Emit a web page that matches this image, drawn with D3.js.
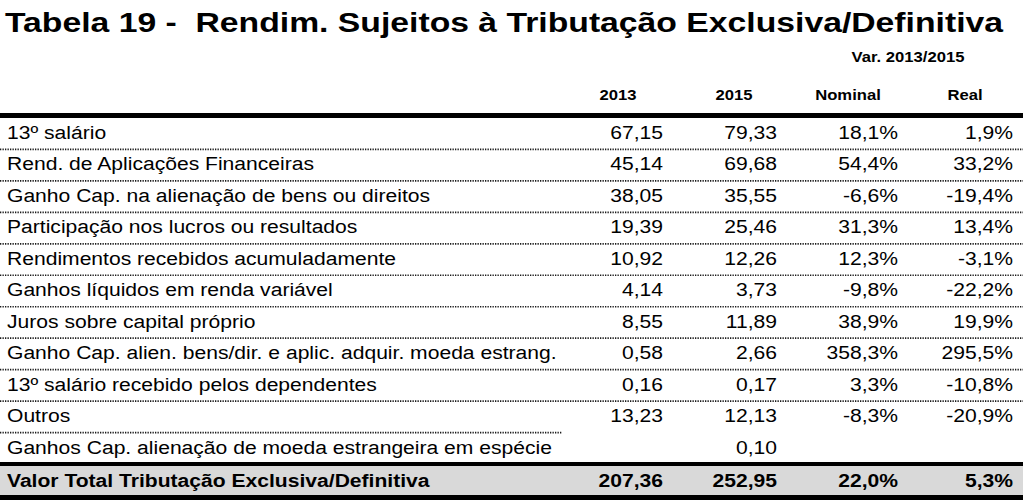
<!DOCTYPE html>
<html><head><meta charset="utf-8">
<script src="https://cdn.jsdelivr.net/npm/d3@7"></script>
<style>html,body{margin:0;padding:0;background:#fff;}svg{display:block;font-family:"Liberation Sans",Arial,sans-serif;}text{white-space:pre;}</style>
</head><body>
<script>
const title = "Tabela 19 -  Rendim. Sujeitos à Tributação Exclusiva/Definitiva";
const groupHeader = "Var. 2013/2015";
const columns = ["2013", "2015", "Nominal", "Real"];
const categories = [
  "13º salário",
  "Rend. de Aplicações Financeiras",
  "Ganho Cap. na alienação de bens ou direitos",
  "Participação nos lucros ou resultados",
  "Rendimentos recebidos acumuladamente",
  "Ganhos líquidos em renda variável",
  "Juros sobre capital próprio",
  "Ganho Cap. alien. bens/dir. e aplic. adquir. moeda estrang.",
  "13º salário recebido pelos dependentes",
  "Outros",
  "Ganhos Cap. alienação de moeda estrangeira em espécie"
];
const values2013 = [67.15, 45.14, 38.05, 19.39, 10.92, 4.14, 8.55, 0.58, 0.16, 13.23, null];
const values2015 = [79.33, 69.68, 35.55, 25.46, 12.26, 3.73, 11.89, 2.66, 0.17, 12.13, 0.10];
const varNominal = [18.1, 54.4, -6.6, 31.3, 12.3, -9.8, 38.9, 358.3, 3.3, -8.3, null];
const varReal = [1.9, 33.2, -19.4, 13.4, -3.1, -22.2, 19.9, 295.5, -10.8, -20.9, null];
const totalLabel = "Valor Total Tributação Exclusiva/Definitiva";
const totalValues = [207.36, 252.95, 22.0, 5.3];

const W = 1023, H = 500;
const SX = 1.11;
const svg = d3.select("body").append("svg").attr("width", W).attr("height", H);

const f2 = v => v == null ? "" : d3.format(".2f")(v).replace(".", ",");
const fp = v => v == null ? "" : d3.format(".1f")(v).replace(".", ",").replace("−", "-") + "%";
const fmts = [f2, f2, fp, fp];

const y = d3.scaleBand().domain(d3.range(categories.length)).range([118, 464]).padding(0);
const colRight = d3.scaleOrdinal().domain(columns).range([663, 777, 898, 1013]);
const colCenter = d3.scaleOrdinal().domain(columns).range([618, 734, 848, 965]);

// title
svg.append("text").attr("x", 5).attr("y", 32)
  .attr("font-size", 28).attr("font-weight", "bold").attr("fill", "#000")
  .attr("textLength", 998).attr("lengthAdjust", "spacingAndGlyphs")
  .text(title);

svg.append("text").attr("transform", `translate(908,62) scale(${SX},1)`).attr("text-anchor", "middle")
  .attr("font-size", 15).attr("font-weight", "bold").text(groupHeader);

svg.selectAll("text.colh").data(columns).join("text").attr("class", "colh")
  .attr("transform", d => `translate(${colCenter(d)},100) scale(${SX},1)`).attr("text-anchor", "middle")
  .attr("font-size", 15).attr("font-weight", "bold").text(d => d);

// total row background
svg.append("rect").attr("x", 0).attr("y", 466).attr("width", W).attr("height", 29).attr("fill", "#d9d9d9");

// dotted separators
const seps = d3.range(1, categories.length);
svg.selectAll("line.sep").data(seps).join("line").attr("class", "sep")
  .attr("x1", 0)
  .attr("x2", d => d === categories.length - 1 ? 562 : W)
  .attr("y1", d => y(d)).attr("y2", d => y(d))
  .attr("stroke", "#1a1a1a").attr("stroke-width", 1.7).attr("stroke-dasharray", "1.3,1.2");

// thick lines
svg.append("line").attr("x1", 0).attr("x2", W).attr("y1", 115.5).attr("y2", 115.5).attr("stroke", "#000").attr("stroke-width", 5);
svg.append("line").attr("x1", 0).attr("x2", W).attr("y1", 464).attr("y2", 464).attr("stroke", "#000").attr("stroke-width", 4);
svg.append("line").attr("x1", 0).attr("x2", W).attr("y1", 497.5).attr("y2", 497.5).attr("stroke", "#000").attr("stroke-width", 5);

// rows
const rows = svg.selectAll("g.row").data(categories).join("g").attr("class", "row")
  .attr("transform", (d, i) => `translate(0,${y(i) + 21})`);
rows.append("text").attr("transform", `translate(7,0) scale(${SX},1)`).attr("font-size", 19).text(d => d);
const series = [values2013, values2015, varNominal, varReal];
columns.forEach((c, ci) => {
  rows.append("text").attr("transform", `translate(${colRight(c)},0) scale(${SX},1)`).attr("text-anchor", "end")
    .attr("font-size", 19).text((d, i) => fmts[ci](series[ci][i]));
});

// total row
const tot = svg.append("g").attr("transform", "translate(0,487)");
tot.append("text").attr("transform", `translate(7,0) scale(${SX},1)`).attr("font-size", 19).attr("font-weight", "bold").text(totalLabel);
columns.forEach((c, ci) => {
  tot.append("text").attr("transform", `translate(${colRight(c)},0) scale(${SX},1)`).attr("text-anchor", "end")
    .attr("font-size", 19).attr("font-weight", "bold").text(fmts[ci](totalValues[ci]));
});
</script>
</body></html>
